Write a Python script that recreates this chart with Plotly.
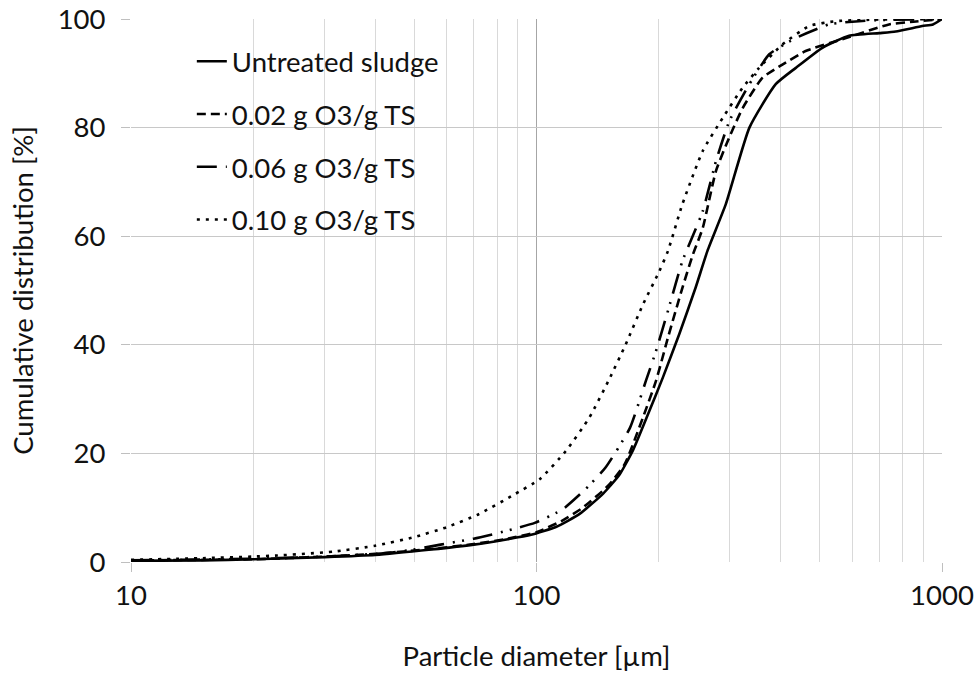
import plotly.graph_objects as go

# ---- data ----
d_untreated = [10, 15, 20, 30, 40, 55, 70, 85, 97, 112, 128, 146, 160, 173, 190, 205, 225, 247, 264, 293, 335, 389, 436, 507, 590, 700, 769, 894, 950, 1000]
y_untreated = [0.2, 0.3, 0.5, 0.9, 1.3, 2.3, 3.2, 4.2, 5.0, 6.5, 8.9, 12.6, 16.0, 20.6, 27.9, 34.0, 42.0, 50.6, 57.3, 65.9, 80.0, 88.0, 91.0, 94.7, 96.9, 97.4, 97.7, 98.7, 99.0, 100]

d_002 = [10, 20, 30, 40, 55, 70, 85, 100, 115, 130, 150, 165, 183, 197, 212, 229, 243, 257, 277, 300, 323, 361, 404, 461, 580, 740, 850, 1000]
y_002 = [0.3, 0.5, 1.0, 1.5, 2.4, 3.3, 4.3, 5.5, 7.5, 10.0, 14.0, 18.0, 26.6, 33.3, 41.9, 50.5, 56.6, 61.5, 72.0, 78.5, 83.7, 89.2, 91.6, 94.1, 96.5, 99.0, 99.5, 100]

d_006 = [10, 20, 30, 42, 49, 58, 70, 80, 90, 99, 116, 132, 148, 170, 186, 197, 212, 229, 257, 277, 299, 335, 375, 436, 527, 650, 1000]
y_006 = [0.3, 0.6, 1.0, 1.6, 2.2, 3.2, 4.3, 5.3, 6.3, 7.2, 9.7, 13.4, 17.4, 24.7, 33.3, 38.8, 46.8, 55.4, 64.6, 73.8, 81.2, 88.0, 93.5, 96.5, 99.0, 99.7, 100]

d_010 = [10, 15, 20, 23, 31.5, 40, 50, 60, 72, 87.5, 102, 118, 135, 151, 166, 183, 201, 211, 229, 257, 288, 322, 354, 404, 470, 547, 700, 1000]
y_010 = [0.4, 0.7, 1.0, 1.2, 1.9, 3.0, 4.6, 6.4, 8.8, 12.3, 15.3, 20.4, 26.6, 33.6, 40.1, 47.4, 53.6, 57.3, 65.9, 75.7, 81.8, 87.3, 91.0, 95.3, 98.7, 99.6, 99.9, 100]

series_names = ["Untreated sludge", "0.02 g O3/g TS", "0.06 g O3/g TS", "0.10 g O3/g TS"]
y_ticks = [0, 20, 40, 60, 80, 100]
x_ticks = [10, 100, 1000]

FONT = "Lato"
FS = 27.5
TXT = "#111111"
fig = go.Figure()

styles = ["solid", "9px,5px", "20px,9px,2px,7px,2px,9px", "3px,6px"]
datasets = [(d_untreated, y_untreated), (d_002, y_002), (d_006, y_006), (d_010, y_010)]
for i, ((xs, ys), name, dash) in enumerate(zip(datasets, series_names, styles)):
    fig.add_trace(go.Scatter(
        x=xs, y=ys, mode="lines", name=name, legendgroup=f"g{i}",
        line=dict(color="black", width=2.6, dash=dash, shape="spline", smoothing=0.5),
    ))

fig.update_layout(
    width=975, height=673,
    margin=dict(l=131, r=33, t=19, b=111),
    paper_bgcolor="white", plot_bgcolor="white",
    font=dict(family=FONT, size=FS, color=TXT),
    showlegend=True,
    legend=dict(
        x=0.075, y=0.967, xanchor="left", yanchor="top",
        bgcolor="rgba(0,0,0,0)", font=dict(size=FS, family=FONT, color=TXT),
        tracegroupgap=14, itemwidth=30,
    ),
    xaxis=dict(
        type="log", range=[1, 3], tickvals=x_ticks, ticktext=[str(v) for v in x_ticks],
        showgrid=True, gridcolor="#A6A6A6", gridwidth=1.3,
        ticks="outside", ticklen=9, tickcolor="#BFBFBF", tickwidth=1.3,
        minor=dict(dtick="D1", showgrid=True, gridcolor="#D9D9D9", gridwidth=1.3, ticks=""),
        zeroline=False, showline=False, automargin=False,
        tickfont=dict(size=FS, family=FONT, color=TXT),
        title=dict(text="Particle diameter [µm]", font=dict(size=FS, family=FONT, color=TXT), standoff=36),
    ),
    yaxis=dict(
        range=[0, 100], tickvals=y_ticks,
        showgrid=True, gridcolor="#C8C8C8", gridwidth=1.3,
        ticks="outside", ticklen=9, tickcolor="#BFBFBF", tickwidth=1.3,
        ticklabelstandoff=10,
        zeroline=False, showline=False, automargin=False,
        tickfont=dict(size=FS, family=FONT, color=TXT),
        title=dict(text="Cumulative distribution [%]", font=dict(size=FS, family=FONT, color=TXT), standoff=16),
    ),
)

fig.write_html("out.html")
